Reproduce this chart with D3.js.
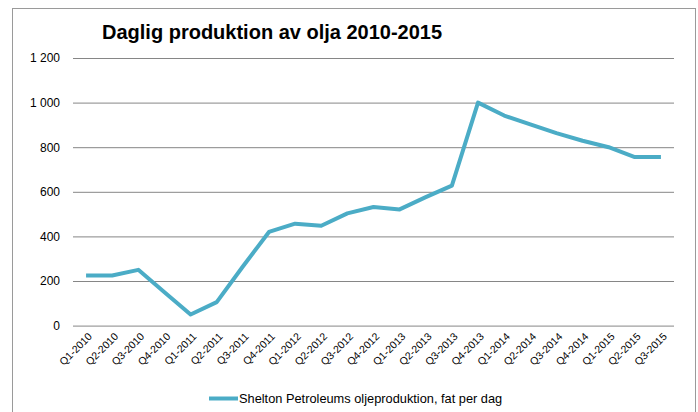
<!DOCTYPE html>
<html>
<head>
<meta charset="utf-8">
<script src="https://cdn.jsdelivr.net/npm/d3@7"></script>
<style>
  body { margin: 0; background: #fff; }
  svg { display: block; font-family: "Liberation Sans", Arial, sans-serif; }
  .xlab { transform-origin: 0 0; }
</style>
</head>
<body>
<div id="chart"></div>
<script>
"use strict";
const quarters = ["Q1-2010", "Q2-2010", "Q3-2010", "Q4-2010", "Q1-2011", "Q2-2011", "Q3-2011", "Q4-2011",
    "Q1-2012", "Q2-2012", "Q3-2012", "Q4-2012", "Q1-2013", "Q2-2013", "Q3-2013", "Q4-2013",
    "Q1-2014", "Q2-2014", "Q3-2014", "Q4-2014", "Q1-2015", "Q2-2015", "Q3-2015"];
const production = [225, 225, 250, 150, 50, 105, 265, 420, 457, 448, 503, 532, 521, 576, 628, 1000,
    942, 902, 863, 829, 800, 756, 756];
const yTicks = [0, 200, 400, 600, 800, 1000, 1200];
const seriesName = "Shelton Petroleums oljeproduktion, fat per dag";
const title = "Daglig produktion av olja 2010-2015";

const W = 698, H = 412;
const plot = { left: 73, right: 674, top: 58, bottom: 325.6 };
const lineColor = "#4bacc6";

const svg = d3.select("#chart").append("svg")
    .attr("width", W)
    .attr("height", H)
    .attr("viewBox", `0 0 ${W} ${H}`);

// chart frame (bottom edge falls outside the picture)
svg.append("rect")
    .attr("x", 12.5).attr("y", 8.5)
    .attr("width", 683).attr("height", 420)
    .attr("fill", "none").attr("stroke", "#9a9a9a");

const x = d3.scalePoint().domain(quarters).range([plot.left, plot.right]).padding(0.5);
const y = d3.scaleLinear().domain([0, 1200]).range([plot.bottom, plot.top]);

const fmt = v => d3.format(",")(v).replace(",", " ");

// gridlines + y labels
const yAxis = svg.append("g")
    .attr("transform", `translate(${plot.left},0)`)
    .call(d3.axisLeft(y).tickValues(yTicks).tickSize(-(plot.right - plot.left)).tickPadding(13).tickFormat(fmt));
yAxis.select(".domain").remove();
yAxis.selectAll("line").attr("stroke", "#868686");
yAxis.selectAll("text").attr("font-size", 12).attr("fill", "#000")
    .attr("font-family", "Liberation Sans, Arial, sans-serif");

// x labels, rotated 45 degrees (CSS transform)
svg.append("g")
    .selectAll("text")
    .data(quarters)
    .join("text")
    .attr("class", "xlab")
    .style("transform", d => `translate(${x(d) + 4}px, ${plot.bottom + 9}px) rotate(-45deg)`)
    .attr("text-anchor", "end")
    .attr("dy", "0.35em")
    .attr("font-size", 10.5)
    .attr("fill", "#000")
    .text(d => d);

// line
const line = d3.line()
    .x((d, i) => x(quarters[i]))
    .y(d => y(d));
svg.append("path")
    .datum(production)
    .attr("d", line)
    .attr("fill", "none")
    .attr("stroke", lineColor)
    .attr("stroke-width", 4)
    .attr("stroke-linejoin", "round");

// title
svg.append("text")
    .attr("x", 102).attr("y", 39)
    .attr("font-size", 20).attr("font-weight", "bold")
    .attr("fill", "#000")
    .text(title);

// legend
const legend = svg.append("g").attr("transform", "translate(209,398.5)");
legend.append("line")
    .attr("x1", 0).attr("x2", 29)
    .attr("stroke", lineColor).attr("stroke-width", 4);
legend.append("text")
    .attr("x", 30).attr("y", 4.5)
    .attr("font-size", 12.8).attr("fill", "#000")
    .text(seriesName);
</script>
</body>
</html>
